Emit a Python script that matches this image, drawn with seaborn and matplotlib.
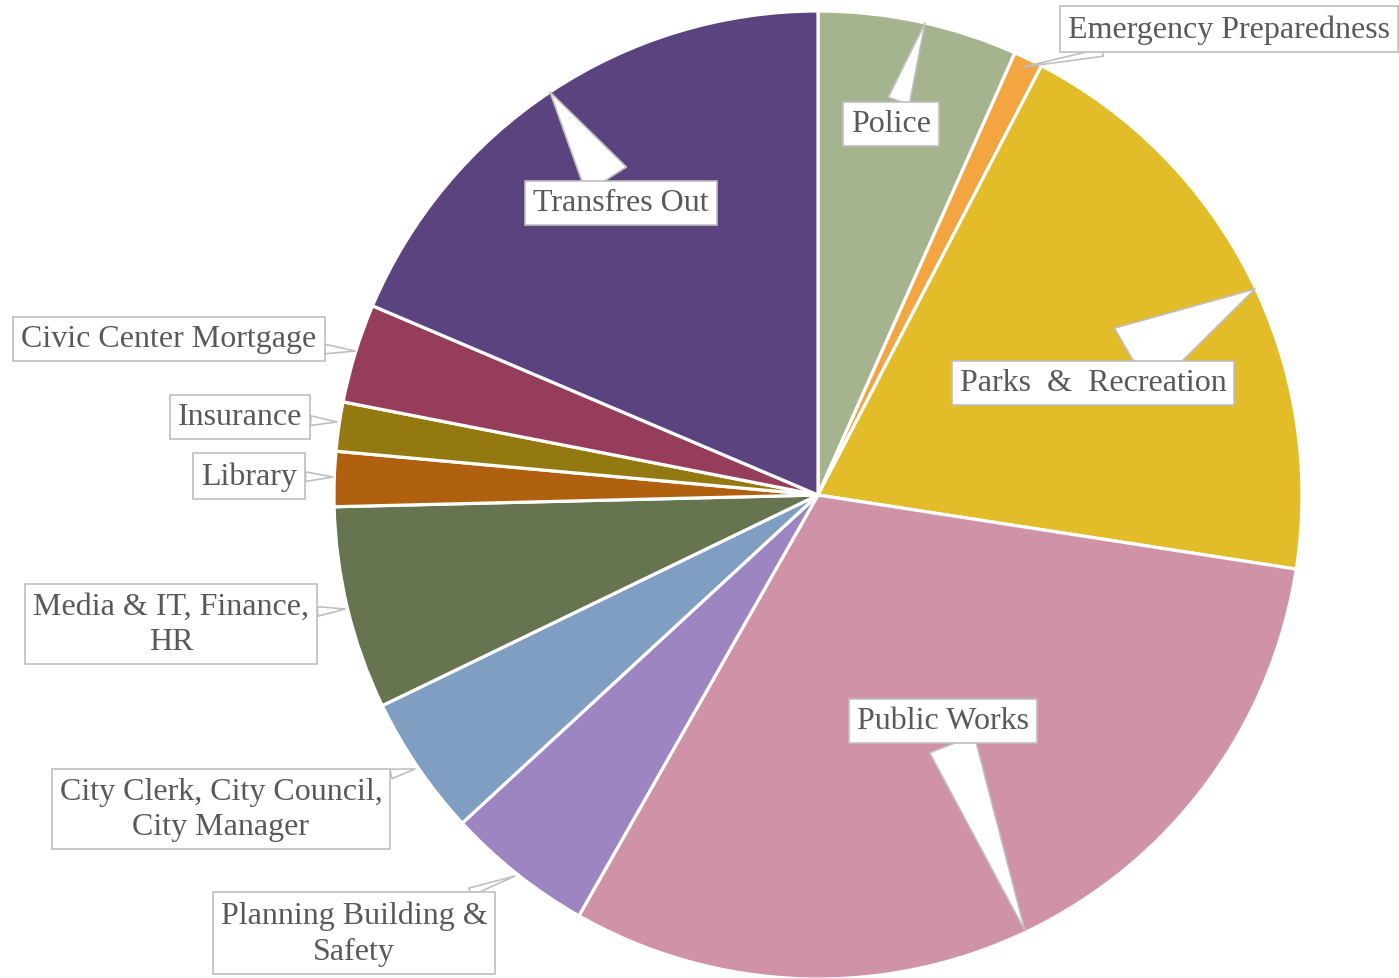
import matplotlib
matplotlib.use("Agg")
import matplotlib.pyplot as plt
import seaborn as sns

# budget share per department (percent)
departments = ["Police", "Emergency Preparedness", "Parks  &  Recreation", "Public Works",
               "Planning Building &\nSafety", "City Clerk, City Council,\nCity Manager",
               "Media & IT, Finance,\nHR", "Library", "Insurance", "Civic Center Mortgage",
               "Transfres Out"]
shares = [6.67, 0.97, 19.81, 30.78, 4.92, 4.69, 6.78, 1.83, 1.64, 3.31, 18.61]
colors = ["#A5B38F", "#F2A541", "#E3BC2A", "#D092A7", "#9C85C0", "#809EC2",
          "#667550", "#B0610F", "#937910", "#953D5B", "#5B4380"]

sns.set_theme(style="white")
plt.rcParams['font.family'] = ['Liberation Serif', 'DejaVu Serif']

W, H = 1399, 979
CX, CY, R = 818, 496, 484


def px(x, y):
    # pixel position -> data units (pie of radius 1 at origin)
    return ((x - CX) / R, (CY - y) / R)


fig = plt.figure(figsize=(W / 100, H / 100), dpi=100)
ax = fig.add_axes([0, 0, 1, 1])
ax.pie(shares, colors=colors, startangle=90, counterclock=False, radius=1,
       wedgeprops=dict(edgecolor="white", linewidth=2.3))
ax.set_xlim(-CX / R, (W - CX) / R)
ax.set_ylim(-(H - CY) / R, CY / R)
ax.axis("off")

# label box centre, pointer tip, pointer width
callouts = {
    "Police": ((891, 125), (925, 24), 0.7),
    "Emergency Preparedness": ((1229, 30), (1023, 68), 0.25),
    "Parks  &  Recreation": ((1093, 384), (1255, 290), 2.3),
    "Public Works": ((943, 722), (1025, 932), 1.5),
    "Planning Building &\nSafety": ((354, 934), (515, 877), 0.25),
    "City Clerk, City Council,\nCity Manager": ((221, 810), (415, 770), 0.3),
    "Media & IT, Finance,\nHR": ((171, 625), (345, 610), 0.3),
    "Library": ((249, 477), (333, 478), 0.3),
    "Insurance": ((240, 418), (337, 423), 0.3),
    "Civic Center Mortgage": ((169, 340), (355, 352), 0.3),
    "Transfres Out": ((621, 204), (550, 93), 1.5),
}

for name in departments:
    (tx, ty), (ax_, ay), tw = callouts[name]
    ax.annotate(name, xy=px(ax_, ay), xytext=px(tx, ty),
                ha="center", va="center", fontsize=23, color="#595959",
                linespacing=1.3,
                bbox=dict(boxstyle="square,pad=0.25", fc="white", ec="#BFBFBF", lw=1.2),
                arrowprops=dict(arrowstyle=f"wedge,tail_width={tw}", fc="white",
                                ec="#BFBFBF", lw=1.2, shrinkA=0, shrinkB=0,
                                connectionstyle="arc3,rad=0"))

fig.savefig("out.png", dpi=100)
